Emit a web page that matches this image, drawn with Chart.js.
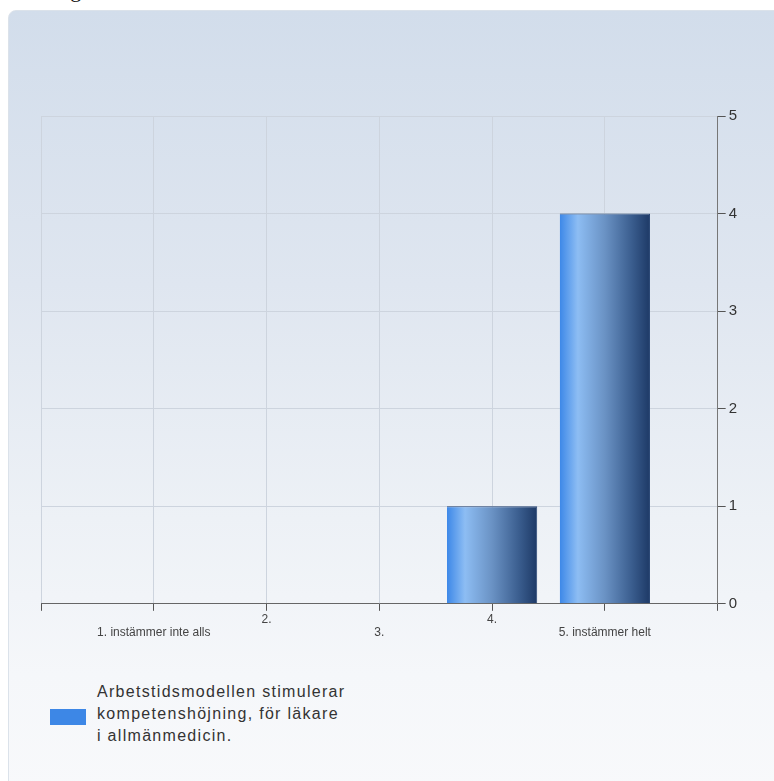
<!DOCTYPE html>
<html lang="sv">

<head>
    <meta charset="UTF-8">
    <title>Arbetstidsmodellen</title>
    <script src="https://cdn.jsdelivr.net/npm/chart.js"></script>
    <style>
        body { margin: 0; width: 774px; height: 781px; overflow: hidden; background: #fff; position: relative; font-family: Arial, "Liberation Sans", sans-serif; }
        .doc-text { position: absolute; left: 22px; top: -23px; font-family: "Liberation Serif", "DejaVu Serif", serif; font-size: 22px; color: #111; }
        .panel {
            position: absolute; left: 8px; top: 10px; width: 775px; height: 780px;
            border: 1px solid #dbe2ea; border-radius: 8px;
            background: linear-gradient(to bottom, #d2ddeb 0%, #dfe6f0 35%, #edf1f6 65%, #f5f7fa 85%, #f8f9fb 100%);
        }
        .chart-box { position: absolute; left: 0; top: 0; width: 774px; height: 650px; }
        .legend { position: absolute; left: 50px; top: 681px; display: flex; align-items: center; }
        .legend .box { width: 36px; height: 16px; margin-right: 11px; margin-top: 6px; }
        .legend .txt { font-size: 16px; letter-spacing: 1.3px; line-height: 22px; color: #333; }
    </style>
</head>

<body>
    <div class="doc-text">ere laga was ova.</div>
    <div class="panel"></div>

    <div class="chart-box">
        <canvas id="barChart"></canvas>
    </div>
    <div class="legend" id="legend"></div>

    <script>
        // Datos
        const categories = ['1. instämmer inte alls', '2.', '3.', '4.', '5. instämmer helt'];
        const values = [0, 0, 0, 1, 4];
        const yTicks = [0, 1, 2, 3, 4, 5];
        const seriesLabel = 'Arbetstidsmodellen stimulerar\nkompetenshöjning, för läkare\ni allmänmedicin.';

        const points = categories.map((c, i) => ({ x: i + 1, y: values[i] }));

        // Gradiente horizontal de cada barra
        function barGradient(context) {
            const chart = context.chart;
            const xs = chart.scales.x;
            if (!chart.chartArea || !xs || context.raw == null) return '#3d87e6';
            const cx = xs.getPixelForValue(context.raw.x);
            const w = (xs.getPixelForValue(1) - xs.getPixelForValue(0)) * 0.8;
            const g = chart.ctx.createLinearGradient(cx - w / 2, 0, cx + w / 2, 0);
            g.addColorStop(0, '#3d88e8');
            g.addColorStop(0.2, '#8dbdf3');
            g.addColorStop(0.5, '#6a92c4');
            g.addColorStop(0.8, '#3a5d8e');
            g.addColorStop(1, '#1d3966');
            return g;
        }

        const ctx = document.getElementById('barChart').getContext('2d');
        const chart = new Chart(ctx, {
            type: 'bar',
            data: {
                datasets: [{
                    label: seriesLabel,
                    data: points,
                    backgroundColor: barGradient,
                    borderColor: '#2a4775',
                    borderWidth: { top: 1, right: 1, left: 0, bottom: 0 },
                    borderSkipped: 'bottom',
                    barPercentage: 0.8,
                    categoryPercentage: 1
                }]
            },
            options: {
                responsive: true,
                maintainAspectRatio: false,
                animation: false,
                layout: { padding: { left: 41, right: 34, top: 116, bottom: 8 } },
                plugins: { legend: { display: false }, tooltip: { enabled: false } },
                scales: {
                    x: {
                        type: 'linear',
                        offset: false,
                        min: 0,
                        max: categories.length + 1,
                        grid: { offset: false, color: '#cdd4de', tickColor: '#555', tickLength: 7 },
                        border: { color: '#666' },
                        ticks: {
                            stepSize: 1,
                            autoSkip: false,
                            maxRotation: 0,
                            padding: 3,
                            color: '#444',
                            font: { size: 12, family: 'Arial', lineHeight: 1.05 },
                            callback: function (v) {
                                const lbl = categories[v - 1];
                                if (!lbl) return '';
                                return (v % 2 === 1) ? ['', lbl] : lbl;
                            }
                        }
                    },
                    y: {
                        position: 'right',
                        min: 0,
                        max: 5,
                        afterBuildTicks: function (axis) { axis.ticks = yTicks.map(v => ({ value: v })); },
                        grid: { color: '#cdd4de', tickColor: '#555', tickLength: 8 },
                        border: { color: '#777' },
                        ticks: {
                            padding: 3,
                            color: '#333',
                            font: { size: 15, family: 'Arial' }
                        }
                    }
                }
            }
        });

        // Leyenda en HTML (texto en varias líneas)
        const ds = chart.data.datasets[0];
        document.getElementById('legend').innerHTML =
            '<div class="box" style="background:#3d87e6"></div>' +
            '<div class="txt">' + ds.label.split('\n').join('<br>') + '</div>';
    </script>
</body>

</html>
